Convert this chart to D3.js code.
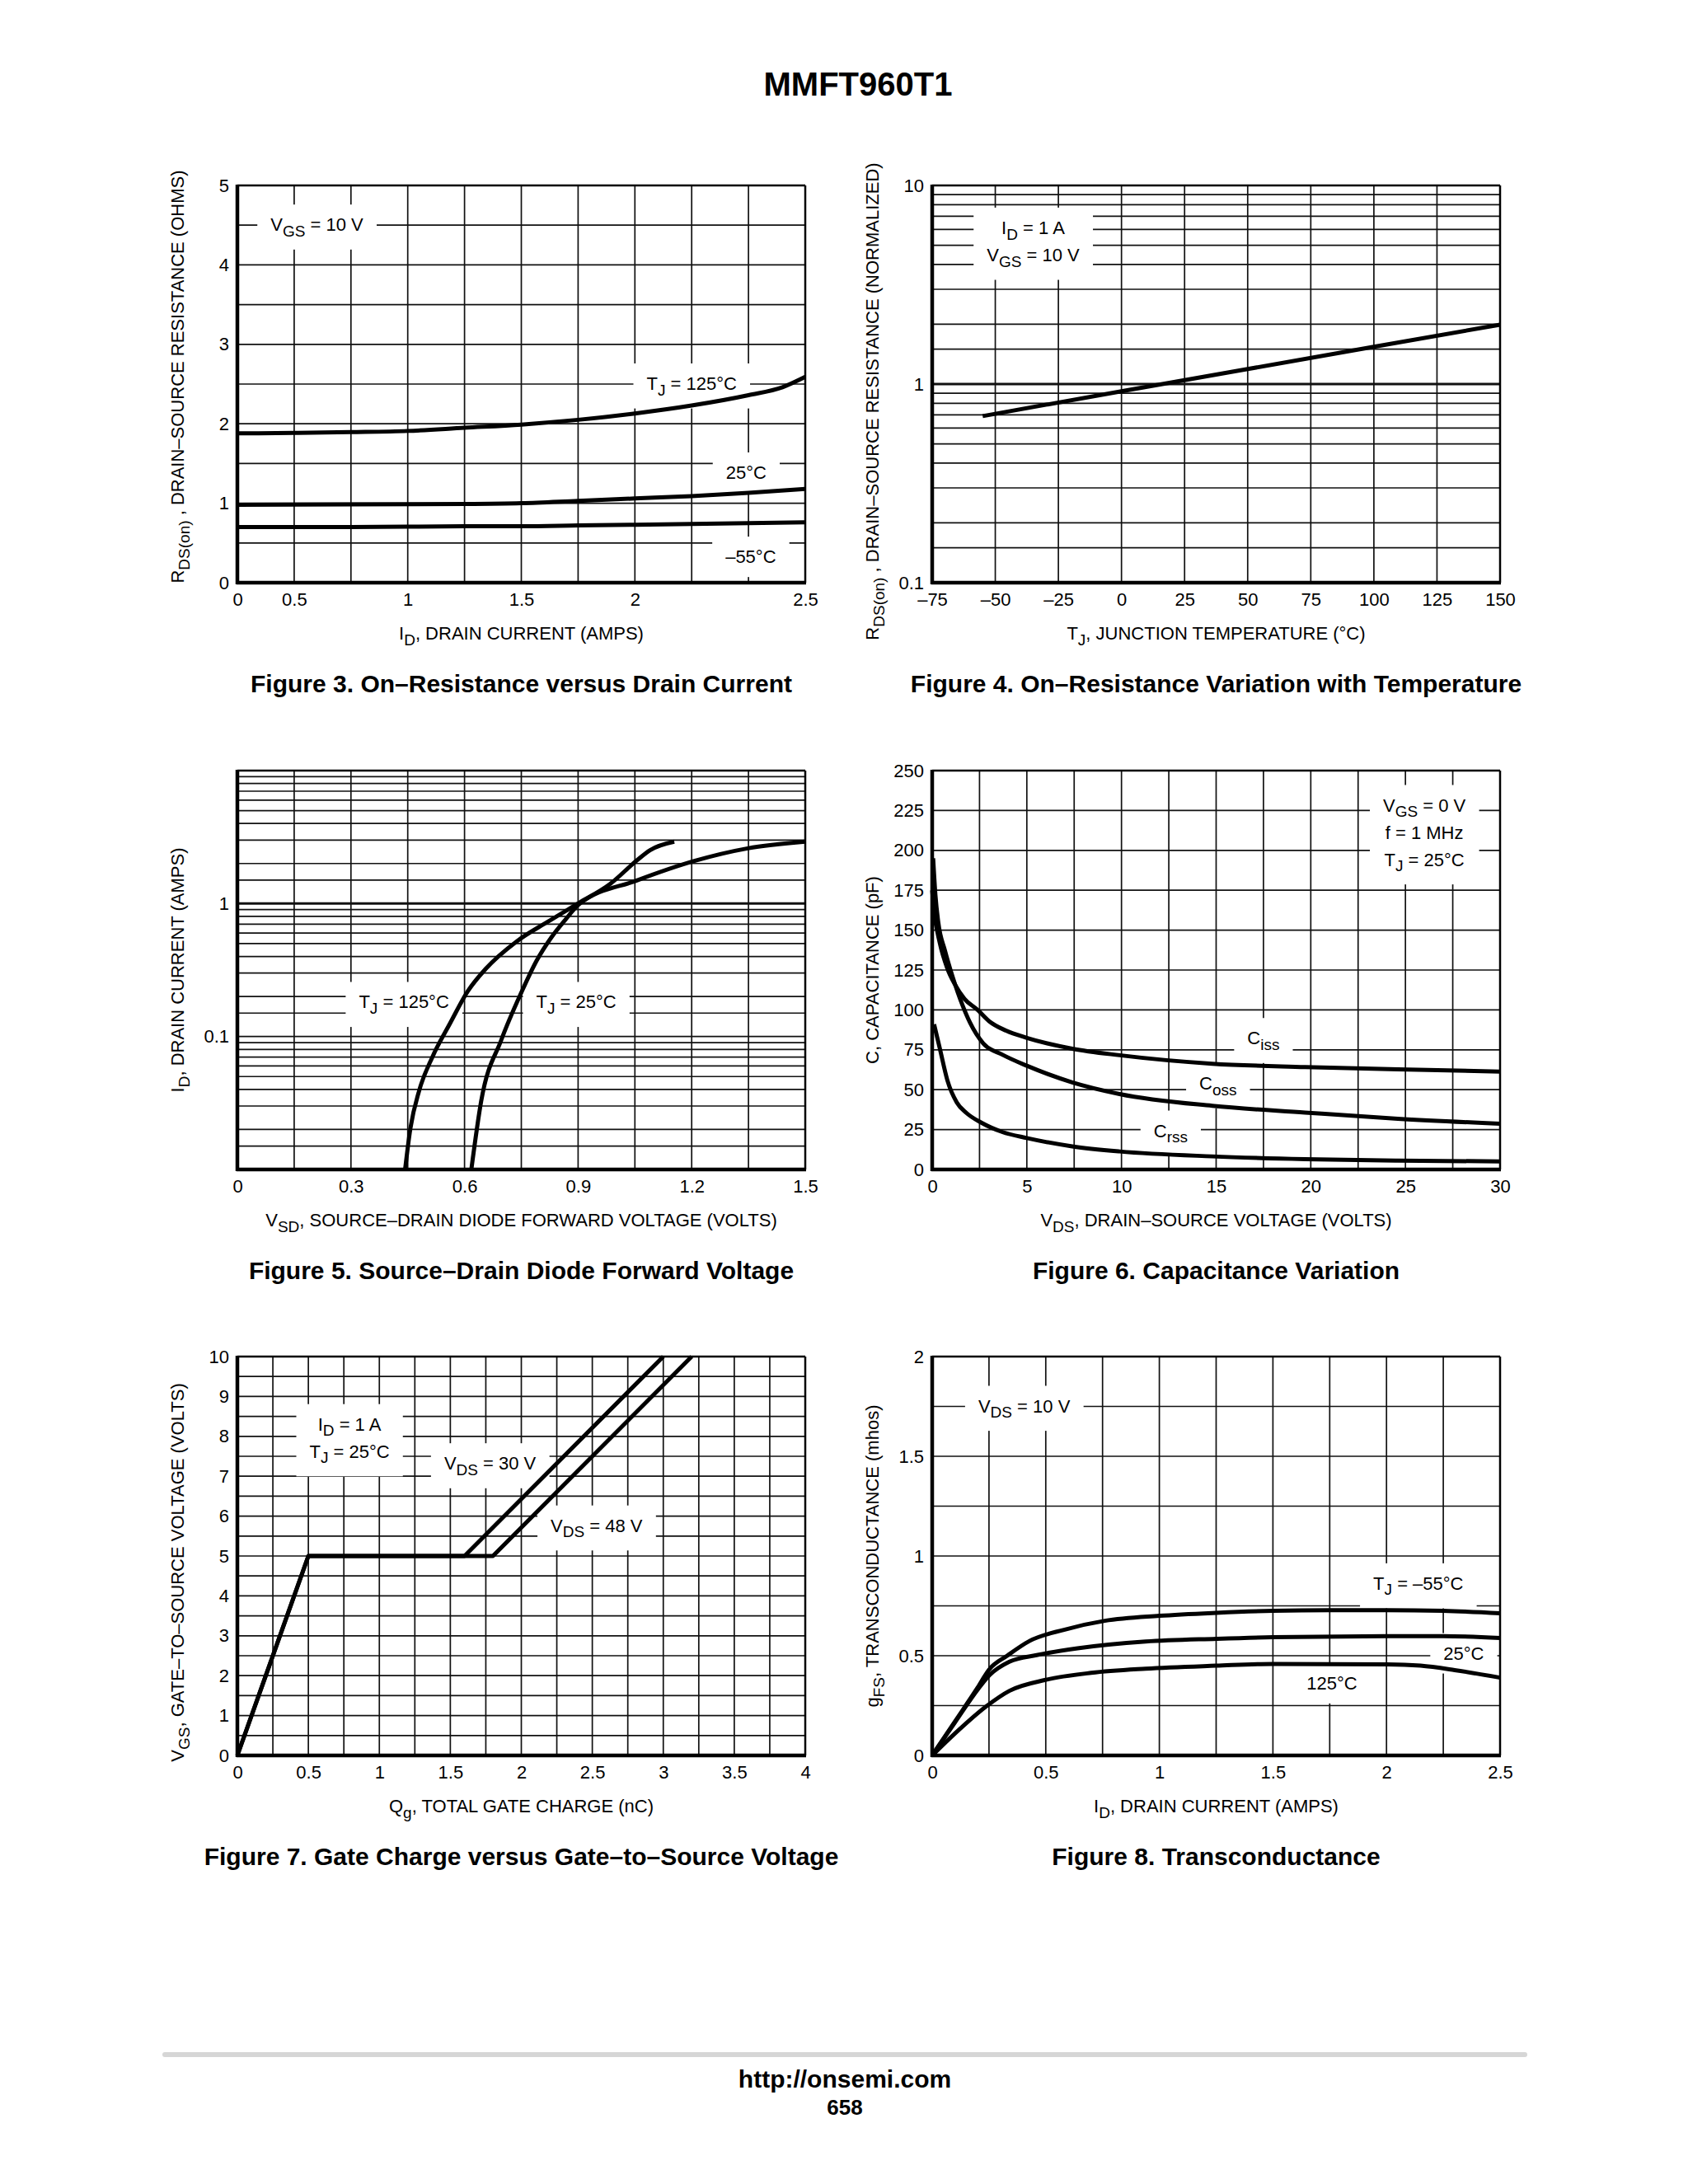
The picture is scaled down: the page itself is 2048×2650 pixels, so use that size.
<!DOCTYPE html>
<html>
<head>
<meta charset="utf-8">
<script src="https://cdn.jsdelivr.net/npm/d3@7"></script>
<style>
  body { margin: 0; background: #fff; }
  text { white-space: pre; }
</style>
</head>
<body>
<svg id="page" width="2048" height="2650"></svg>
<script>
// ---- data ----

// Figure 3: on-resistance vs drain current (x in grid units, see tick quirk)
const fig3XTickPos = [0, 0.25, 0.75, 1.25, 1.75, 2.5];
const fig3XTickLabels = ["0", "0.5", "1", "1.5", "2", "2.5"];
const fig3YTicks = [0, 1, 2, 3, 4, 5];
const fig3Tj125 = [[0, 1.88], [0.25, 1.885], [0.5, 1.895], [0.75, 1.91], [1.0, 1.95], [1.25, 1.99],
  [1.5, 2.05], [1.75, 2.13], [2.0, 2.23], [2.25, 2.36], [2.4, 2.46], [2.5, 2.59]];
const fig3Tj25 = [[0, 0.98], [0.5, 0.985], [1.0, 0.99], [1.25, 1.0], [1.5, 1.03], [1.75, 1.06],
  [2.0, 1.09], [2.25, 1.13], [2.5, 1.18]];
const fig3TjM55 = [[0, 0.70], [0.5, 0.70], [1.0, 0.71], [1.25, 0.71], [1.5, 0.72], [2.0, 0.74], [2.5, 0.76]];

// Figure 4: normalized on-resistance vs junction temperature
const fig4XTicks = [-75, -50, -25, 0, 25, 50, 75, 100, 125, 150];
const fig4XTickLabels = ["–75", "–50", "–25", "0", "25", "50", "75", "100", "125", "150"];
const fig4YTicks = [0.1, 1, 10];
const fig4YTickLabels = ["0.1", "1", "10"];
const fig4Rds = [[-55, 0.69], [0, 0.92], [50, 1.19], [100, 1.54], [150, 1.99]];

// Figure 5: source-drain diode forward voltage
const fig5XTicks = [0, 0.3, 0.6, 0.9, 1.2, 1.5];
const fig5XTickLabels = ["0", "0.3", "0.6", "0.9", "1.2", "1.5"];
const fig5YTicks = [0.1, 1];
const fig5YTickLabels = ["0.1", "1"];
const fig5Tj125 = [[0.443, 0.01], [0.457, 0.0204], [0.48, 0.039], [0.515, 0.07], [0.562, 0.126],
  [0.609, 0.22], [0.656, 0.323], [0.738, 0.52], [0.82, 0.73], [0.902, 1.01], [0.984, 1.40],
  [1.055, 2.11], [1.09, 2.52], [1.154, 2.92]];
const fig5Tj25 = [[0.618, 0.01], [0.644, 0.0327], [0.697, 0.094], [0.75, 0.214], [0.79, 0.37],
  [0.83, 0.56], [0.867, 0.76], [0.902, 0.987], [1.055, 1.49], [1.207, 2.09], [1.348, 2.6], [1.5, 2.92]];

// Figure 6: capacitance variation
const fig6XTicks = [0, 5, 10, 15, 20, 25, 30];
const fig6YTicks = [0, 25, 50, 75, 100, 125, 150, 175, 200, 225, 250];
const fig6Ciss = [[0, 175], [0.1, 162], [0.4, 142], [0.8, 126], [1.2, 116], [1.7, 107], [2.4, 100],
  [3, 93], [3.9, 87], [5, 82.5], [7.4, 75.7], [9.9, 71.6], [14.8, 66.3], [19.7, 64.2], [24.6, 62.7], [30, 61.4]];
const fig6Coss = [[0.05, 195], [0.17, 172], [0.32, 155], [0.68, 137], [1.1, 120], [1.6, 103], [2, 92],
  [2.7, 79], [3.7, 72], [5, 65], [7.4, 54.6], [9.9, 47.3], [14.8, 39.9], [19.7, 35.7], [24.6, 31.8], [30, 28.7]];
const fig6Crss = [[0.1, 91], [0.4, 76], [0.8, 56], [1.3, 42], [1.8, 35.5], [2.6, 29.3], [3.7, 23.5],
  [5, 19.7], [7.4, 14.5], [9.9, 11.3], [14.8, 8.2], [19.7, 6.5], [24.6, 5.6], [30, 5.05]];

// Figure 7: gate charge
const fig7XTicks = [0, 0.5, 1, 1.5, 2, 2.5, 3, 3.5, 4];
const fig7YTicks = [0, 1, 2, 3, 4, 5, 6, 7, 8, 9, 10];
const fig7Vds30 = [[0, 0], [0.5, 5], [1.6, 5], [3.0, 10]];
const fig7Vds48 = [[0, 0], [0.5, 5], [1.8, 5], [3.2, 10]];

// Figure 8: transconductance
const fig8XTicks = [0, 0.5, 1, 1.5, 2, 2.5];
const fig8YTicks = [0, 0.5, 1, 1.5, 2];
const fig8TjM55 = [[0, 0], [0.1, 0.17], [0.2, 0.34], [0.25, 0.43], [0.33, 0.5], [0.43, 0.575], [0.58, 0.63],
  [0.76, 0.675], [1.0, 0.70], [1.25, 0.715], [1.5, 0.725], [1.75, 0.728], [2.0, 0.728], [2.25, 0.725], [2.5, 0.713]];
const fig8Tj25 = [[0, 0], [0.1, 0.165], [0.2, 0.33], [0.25, 0.40], [0.34, 0.47], [0.46, 0.503], [0.64, 0.537],
  [0.94, 0.571], [1.25, 0.585], [1.5, 0.593], [2.0, 0.598], [2.25, 0.598], [2.5, 0.589]];
const fig8Tj125 = [[0, 0], [0.1, 0.11], [0.24, 0.248], [0.34, 0.324], [0.5, 0.379], [0.7, 0.414], [0.94, 0.435],
  [1.25, 0.45], [1.5, 0.459], [2.0, 0.457], [2.15, 0.45], [2.3, 0.428], [2.5, 0.39]];

// ---- drawing ----
const FONT = "'Liberation Sans', Arial, Helvetica, sans-serif";
const svg = d3.select("#page");

function range(a, b, step) {
  const out = [];
  for (let i = 0; a + i * step <= b + 1e-9; i++) out.push(+(a + i * step).toFixed(6));
  return out;
}
// log grid: 1, 1.5, 2..9 per decade
function logGrid(lo, hi) {
  const out = [];
  for (let dec = lo; dec < hi - 1e-12; dec *= 10)
    [1, 1.5, 2, 3, 4, 5, 6, 7, 8, 9].forEach(m => out.push(dec * m));
  out.push(hi);
  return out;
}

// text with V_{GS} style subscripts
function richText(parent, str, size) {
  const t = parent.append("text").attr("font-size", size).attr("font-family", FONT).attr("fill", "#000");
  const parts = str.split(/(_\{[^}]*\})/).filter(s => s.length);
  const sub = Math.round(size * 0.85), shift = size * 0.3;
  let down = false;
  parts.forEach(p => {
    const ts = t.append("tspan");
    if (p.startsWith("_{")) {
      ts.text(p.slice(2, -1)).attr("font-size", sub).attr("dy", down ? 0 : shift);
      down = true;
    } else {
      ts.text(p).attr("dy", down ? -shift : 0);
      down = false;
    }
  });
  return t;
}

function drawPanel(p) {
  const g = svg.append("g").attr("class", "panel");
  const x = d3.scaleLinear().domain(p.xDomain).range([p.left, p.left + p.w]);
  const y = (p.yLog ? d3.scaleLog() : d3.scaleLinear()).domain(p.yDomain).range([p.top + p.h, p.top]);
  const bottom = p.top + p.h, right = p.left + p.w;

  // grid
  g.append("g").selectAll("line").data(p.xGrid).join("line")
    .attr("x1", d => x(d)).attr("x2", d => x(d))
    .attr("y1", p.top).attr("y2", bottom)
    .attr("stroke", "#111").attr("stroke-width", 1.7);
  g.append("g").selectAll("line").data(p.yGrid).join("line")
    .attr("x1", p.left).attr("x2", right)
    .attr("y1", d => y(d)).attr("y2", d => y(d))
    .attr("stroke", "#111")
    .attr("stroke-width", d => (p.yMajor || []).some(m => Math.abs(m - d) < 1e-9) ? 3 : 1.7);

  // annotation labels sitting in white boxes
  p.notes.forEach(n => {
    const ng = g.append("g");
    n.lines.forEach((s, i) => {
      richText(ng, s, 22)
        .attr("text-anchor", "middle")
        .attr("x", x(n.x))
        .attr("y", y(n.y) + (i - (n.lines.length - 1) / 2) * 33 + 7);
    });
    const bb = ng.node().getBBox();
    const px = 16, py = 12;
    ng.insert("rect", ":first-child")
      .attr("x", bb.x - px).attr("y", bb.y - py)
      .attr("width", bb.width + 2 * px).attr("height", bb.height + 2 * py)
      .attr("fill", "#fff");
  });

  // curves
  const line = d3.line().x(d => x(d[0])).y(d => y(d[1]))
    .curve(p.linear ? d3.curveLinear : d3.curveMonotoneX);
  g.append("g").selectAll("path").data(p.series).join("path")
    .attr("d", d => line(d))
    .attr("fill", "none").attr("stroke", "#000").attr("stroke-width", 5)
    .attr("stroke-linejoin", "round");

  // frame: heavy left/bottom, lighter top/right
  g.append("line").attr("x1", p.left).attr("x2", right).attr("y1", p.top).attr("y2", p.top)
    .attr("stroke", "#000").attr("stroke-width", 2.5);
  g.append("line").attr("x1", right).attr("x2", right).attr("y1", p.top).attr("y2", bottom)
    .attr("stroke", "#000").attr("stroke-width", 2.5);
  g.append("line").attr("x1", p.left - 1).attr("x2", right + 1).attr("y1", bottom).attr("y2", bottom)
    .attr("stroke", "#000").attr("stroke-width", 4.5);
  g.append("line").attr("x1", p.left).attr("x2", p.left).attr("y1", p.top - 1).attr("y2", bottom + 2)
    .attr("stroke", "#000").attr("stroke-width", 4.5);

  // axes (tick labels only)
  const xAxis = d3.axisBottom(x).tickValues(p.xTicks).tickSize(0).tickPadding(12)
    .tickFormat((d, i) => p.xTickLabels ? p.xTickLabels[i] : d3.format("~g")(d));
  g.append("g").attr("transform", `translate(0,${bottom})`).call(xAxis)
    .call(a => a.select(".domain").remove())
    .attr("font-size", 22).attr("font-family", FONT)
    .selectAll("text").attr("fill", "#000");
  const yAxis = d3.axisLeft(y).tickValues(p.yTicks).tickSize(0).tickPadding(10)
    .tickFormat((d, i) => p.yTickLabels ? p.yTickLabels[i] : d3.format("~g")(d));
  g.append("g").attr("transform", `translate(${p.left},0)`).call(yAxis)
    .call(a => a.select(".domain").remove())
    .attr("font-size", 22).attr("font-family", FONT)
    .selectAll("text").attr("fill", "#000");

  // axis titles
  richText(g, p.xTitle, 22).attr("text-anchor", "middle")
    .attr("x", p.left + p.w / 2).attr("y", bottom + 69);
  richText(g, p.yTitle, 22).attr("text-anchor", "middle")
    .attr("transform", `translate(${p.left - 65},${p.top + p.h / 2 + (p.yTitleDy || 0)}) rotate(-90)`);

  // caption
  g.append("text").attr("text-anchor", "middle")
    .attr("x", p.left + p.w / 2).attr("y", bottom + 133)
    .attr("font-family", FONT).attr("font-weight", "bold").attr("font-size", 30)
    .text(p.caption);
}

const L = 288, R = 1131, W = 689, H = 482;

drawPanel({
  left: L, top: 225, w: W, h: H,
  xDomain: [0, 2.5], yDomain: [0, 5],
  xGrid: range(0, 2.5, 0.25), yGrid: range(0, 5, 0.5),
  xTicks: fig3XTickPos, xTickLabels: fig3XTickLabels, yTicks: fig3YTicks,
  series: [fig3Tj125, fig3Tj25, fig3TjM55],
  notes: [
    { x: 0.35, y: 4.5, lines: ["V_{GS} = 10 V"] },
    { x: 2.0, y: 2.5, lines: ["T_{J} = 125°C"] },
    { x: 2.24, y: 1.38, lines: ["25°C"] },
    { x: 2.26, y: 0.32, lines: ["–55°C"] }
  ],
  xTitle: "I_{D}, DRAIN CURRENT (AMPS)",
  yTitle: "R_{DS(on)} , DRAIN–SOURCE RESISTANCE (OHMS)", yTitleDy: -9,
  caption: "Figure 3. On–Resistance versus Drain Current"
});

drawPanel({
  left: R, top: 225, w: W, h: H,
  xDomain: [-75, 150], yDomain: [0.1, 10], yLog: true,
  xGrid: range(-75, 150, 25), yGrid: logGrid(0.1, 10), yMajor: [1],
  xTicks: fig4XTicks, xTickLabels: fig4XTickLabels, yTicks: fig4YTicks, yTickLabels: fig4YTickLabels,
  series: [fig4Rds], linear: true,
  notes: [
    { x: -35, y: 5.2, lines: ["I_{D} = 1 A", "V_{GS} = 10 V"] }
  ],
  xTitle: "T_{J}, JUNCTION TEMPERATURE (°C)",
  yTitle: "R_{DS(on)} , DRAIN–SOURCE RESISTANCE (NORMALIZED)", yTitleDy: 21,
  caption: "Figure 4. On–Resistance Variation with Temperature"
});

drawPanel({
  left: L, top: 935, w: W, h: H + 2,
  xDomain: [0, 1.5], yDomain: [0.01, 10], yLog: true,
  xGrid: range(0, 1.5, 0.15), yGrid: logGrid(0.01, 10), yMajor: [1],
  xTicks: fig5XTicks, xTickLabels: fig5XTickLabels, yTicks: fig5YTicks, yTickLabels: fig5YTickLabels,
  series: [fig5Tj125, fig5Tj25],
  notes: [
    { x: 0.44, y: 0.18, lines: ["T_{J} = 125°C"] },
    { x: 0.895, y: 0.18, lines: ["T_{J} = 25°C"] }
  ],
  xTitle: "V_{SD}, SOURCE–DRAIN DIODE FORWARD VOLTAGE (VOLTS)",
  yTitle: "I_{D}, DRAIN CURRENT (AMPS)",
  caption: "Figure 5. Source–Drain Diode Forward Voltage"
});

drawPanel({
  left: R, top: 935, w: W, h: H + 2,
  xDomain: [0, 30], yDomain: [0, 250],
  xGrid: range(0, 30, 2.5), yGrid: range(0, 250, 25),
  xTicks: fig6XTicks, yTicks: fig6YTicks,
  series: [fig6Ciss, fig6Coss, fig6Crss],
  notes: [
    { x: 26, y: 211, lines: ["V_{GS} = 0 V", "f = 1 MHz", "T_{J} = 25°C"] },
    { x: 17.5, y: 82, lines: ["C_{iss}"] },
    { x: 15.1, y: 53.6, lines: ["C_{oss}"] },
    { x: 12.6, y: 24, lines: ["C_{rss}"] }
  ],
  xTitle: "V_{DS}, DRAIN–SOURCE VOLTAGE (VOLTS)",
  yTitle: "C, CAPACITANCE (pF)",
  caption: "Figure 6. Capacitance Variation"
});

drawPanel({
  left: L, top: 1646, w: W, h: H + 2,
  xDomain: [0, 4], yDomain: [0, 10],
  xGrid: range(0, 4, 0.25), yGrid: range(0, 10, 0.5),
  xTicks: fig7XTicks, yTicks: fig7YTicks,
  series: [fig7Vds30, fig7Vds48], linear: true,
  notes: [
    { x: 0.79, y: 7.95, lines: ["I_{D} = 1 A", "T_{J} = 25°C"] },
    { x: 1.78, y: 7.31, lines: ["V_{DS} = 30 V"] },
    { x: 2.53, y: 5.75, lines: ["V_{DS} = 48 V"] }
  ],
  xTitle: "Q_{g}, TOTAL GATE CHARGE (nC)",
  yTitle: "V_{GS}, GATE–TO–SOURCE VOLTAGE (VOLTS)", yTitleDy: 20,
  caption: "Figure 7. Gate Charge versus Gate–to–Source Voltage"
});

drawPanel({
  left: R, top: 1646, w: W, h: H + 2,
  xDomain: [0, 2.5], yDomain: [0, 2],
  xGrid: range(0, 2.5, 0.25), yGrid: range(0, 2, 0.25),
  xTicks: fig8XTicks, yTicks: fig8YTicks,
  series: [fig8TjM55, fig8Tj25, fig8Tj125],
  notes: [
    { x: 0.405, y: 1.75, lines: ["V_{DS} = 10 V"] },
    { x: 2.14, y: 0.86, lines: ["T_{J} = –55°C"] },
    { x: 2.34, y: 0.51, lines: ["25°C"] },
    { x: 1.76, y: 0.36, lines: ["125°C"] }
  ],
  xTitle: "I_{D}, DRAIN CURRENT (AMPS)",
  yTitle: "g_{FS}, TRANSCONDUCTANCE (mhos)",
  caption: "Figure 8. Transconductance"
});

// page header and footer
svg.append("text").attr("x", 1041).attr("y", 116).attr("text-anchor", "middle")
  .attr("font-family", FONT).attr("font-weight", "bold").attr("font-size", 40)
  .text("MMFT960T1");
svg.append("line").attr("x1", 200).attr("x2", 1850).attr("y1", 2493).attr("y2", 2493)
  .attr("stroke", "#d6d6d6").attr("stroke-width", 6).attr("stroke-linecap", "round");
svg.append("text").attr("x", 1025).attr("y", 2533).attr("text-anchor", "middle")
  .attr("font-family", FONT).attr("font-weight", "bold").attr("font-size", 30)
  .text("http://onsemi.com");
svg.append("text").attr("x", 1025).attr("y", 2566).attr("text-anchor", "middle")
  .attr("font-family", FONT).attr("font-weight", "bold").attr("font-size", 26)
  .text("658");
</script>
</body>
</html>
